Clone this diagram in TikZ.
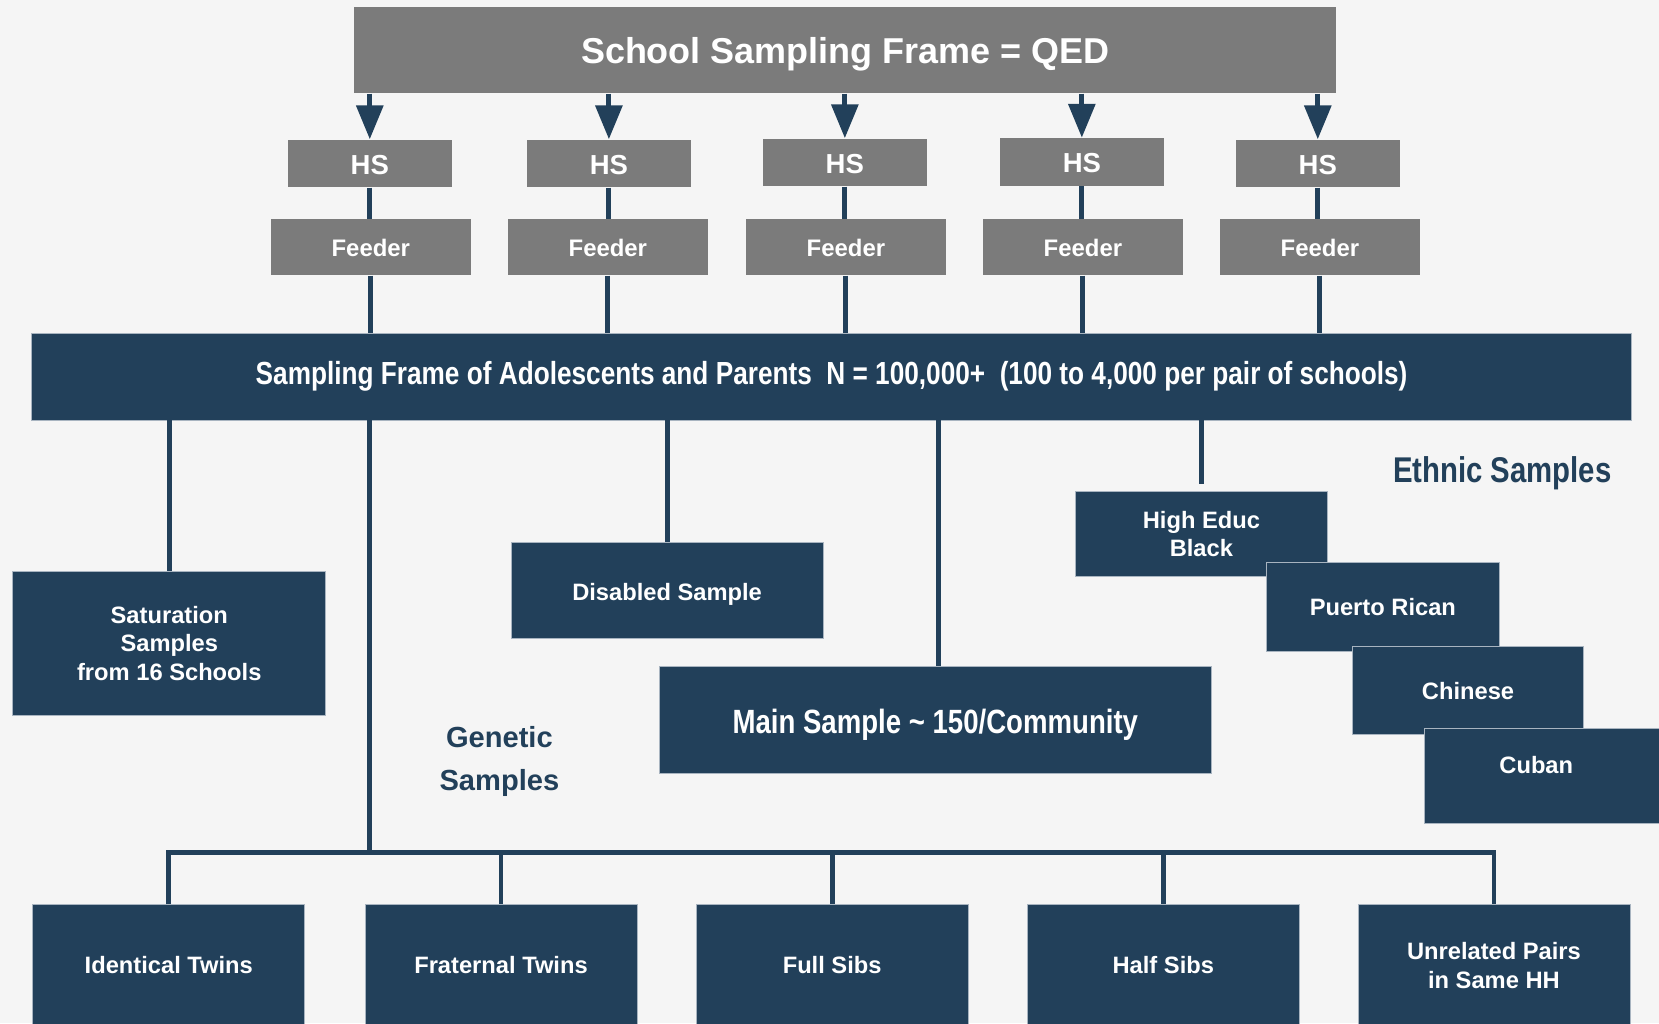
\documentclass[tikz,border=0pt]{standalone}
\usepackage{fontspec}
\setmainfont{Liberation Sans}
\newfontfamily\narrowfont[FakeStretch=0.82]{Liberation Sans}
\usetikzlibrary{arrows.meta}
\definecolor{dkblue}{HTML}{22405A}
\definecolor{gboxc}{HTML}{7B7B7B}
\definecolor{bgc}{HTML}{F5F5F5}
\definecolor{edgec}{HTML}{A8B4C0}
\newcommand\lowertxt[2]{\raisebox{-#1}[\height][\depth]{#2}}
\begin{document}
\begin{tikzpicture}[x=0.5pt,y=-0.5pt,
  gb/.style={rectangle, fill=gboxc, text=white, inner sep=0pt, align=center},
  db/.style={rectangle, fill=dkblue, draw=edgec, line width=0.4pt, text=white, inner sep=0pt, align=center},
  topbox/.style={gb, minimum width=464pt, minimum height=40.5pt, font=\bfseries\fontsize{17}{20}\selectfont},
  hsbox/.style={gb, minimum width=77.5pt, minimum height=22.5pt, font=\bfseries\fontsize{13}{15}\selectfont},
  fdbox/.style={gb, minimum width=94.5pt, minimum height=26.5pt, font=\bfseries\fontsize{11.3}{13}\selectfont},
  body/.style={font=\bfseries\fontsize{11.2}{13.5}\selectfont},
  botbox/.style={db, body, minimum width=128.5pt, minimum height=57.5pt},
  conn/.style={draw=dkblue, line width=2.3pt},
  arr/.style={conn, -{Triangle[length=16pt,width=12.5pt]}},
  heading/.style={text=dkblue, inner sep=0pt, align=center}
]
\useasboundingbox (0,0) rectangle (1568,967);
\fill[bgc] (0,0) rectangle (1568,967);

% top frame
\node[topbox] (top) at (799,47.5) {\lowertxt{2pt}{School Sampling Frame = QED}};

% HS and feeder boxes
\node[hsbox] (hs1) at (349.5,154.5) {\lowertxt{0.75pt}{HS}};
\node[hsbox] (hs2) at (575.5,154.5) {\lowertxt{0.75pt}{HS}};
\node[hsbox] (hs3) at (798.5,153.5) {\lowertxt{0.75pt}{HS}};
\node[hsbox] (hs4) at (1022.5,153) {\lowertxt{0.75pt}{HS}};
\node[hsbox] (hs5) at (1245.5,154.5) {\lowertxt{0.75pt}{HS}};

\node[fdbox] (fd1) at (350.5,233.5) {\lowertxt{0.5pt}{Feeder}};
\node[fdbox] (fd2) at (574.5,233.5) {\lowertxt{0.5pt}{Feeder}};
\node[fdbox] (fd3) at (799.5,233.5) {\lowertxt{0.5pt}{Feeder}};
\node[fdbox] (fd4) at (1023.5,233.5) {\lowertxt{0.5pt}{Feeder}};
\node[fdbox] (fd5) at (1247.5,233.5) {\lowertxt{0.5pt}{Feeder}};

% sampling frame of adolescents
\node[db, minimum width=756pt, minimum height=41pt, font=\narrowfont\bfseries\fontsize{15.1}{18}\selectfont] (frame) at (786,356)
  {Sampling Frame of Adolescents and Parents\ \ N = 100,000+\ \ (100 to 4,000 per pair of schools)};

% arrows and connectors top part
\foreach \i in {1,...,5}{
  \draw[arr] (top.south -| hs\i.north) -- (hs\i.north);
  \draw[conn] (hs\i.south) -- (hs\i.south |- fd\i.north);
  \draw[conn] (fd\i.south) -- (fd\i.south |- frame.north);
}

% middle boxes
\node[db, body, minimum width=148pt, minimum height=68pt] (sat) at (160,608) {Saturation\\Samples\\from 16 Schools};
\node[db, body, minimum width=147.5pt, minimum height=45pt] (dis) at (630.5,558) {\lowertxt{2pt}{Disabled Sample}};
\node[db, minimum width=261pt, minimum height=50.5pt, font=\narrowfont\bfseries\fontsize{15.9}{19}\selectfont] (main) at (884,680.5) {\lowertxt{2.5pt}{Main Sample \textasciitilde\ 150/Community}};

% ethnic samples
\node[db, body, minimum width=119.5pt, minimum height=40.5pt, font=\bfseries\fontsize{11.2}{13}\selectfont] (heb) at (1135.5,504.5) {High Educ\\Black};
\node[db, body, minimum width=110pt, minimum height=42pt] (pr) at (1307,574) {Puerto Rican};
\node[db, body, minimum width=109.5pt, minimum height=41.5pt] (chi) at (1387.5,652.5) {\lowertxt{0.5pt}{Chinese}};
\node[db, minimum width=112pt, minimum height=45pt] (cub) at (1458,733) {};
\node[body, text=white, inner sep=0pt] (cubt) at ([xshift=-3pt,yshift=5pt]cub.center) {Cuban};

\node[heading, font=\narrowfont\bfseries\fontsize{16.9}{20}\selectfont] (eth) at (1420,447) {Ethnic Samples};
\node[heading, font=\bfseries\fontsize{13.75}{20.5}\selectfont] (gen) at (472,719.5) {Genetic\\Samples};

% connectors from frame
\draw[conn] (sat.north |- frame.south) -- (sat.north);
\draw[conn] (dis.north |- frame.south) -- (dis.north);
\draw[conn] ([xshift=1.5pt]main.north |- frame.south) -- ([xshift=1.5pt]main.north);
\draw[conn] (heb.north |- frame.south) -- ([yshift=3pt]heb.north);

% genetic bottom boxes
\node[botbox] (b1) at (159.5,912.5) {Identical Twins};
\node[botbox] (b2) at (473.5,912.5) {Fraternal Twins};
\node[botbox] (b3) at (786.5,912.5) {Full Sibs};
\node[botbox] (b4) at (1099.5,912.5) {Half Sibs};
\node[botbox, font=\bfseries\fontsize{11.2}{13.5}\selectfont] (b5) at (1412,912.5) {Unrelated Pairs\\in Same HH};

\coordinate (bar) at (349,806);
\coordinate (gtop) at (349,356);
\draw[conn] (gtop |- frame.south) -- (bar);
\draw[conn, line join=miter] (b1.north) -- (b1.north |- bar) -- (b5.north |- bar) -- (b5.north);
\foreach \i in {2,3,4}{
  \draw[conn] (b\i.north |- bar) -- (b\i.north);
}
\end{tikzpicture}
\end{document}
